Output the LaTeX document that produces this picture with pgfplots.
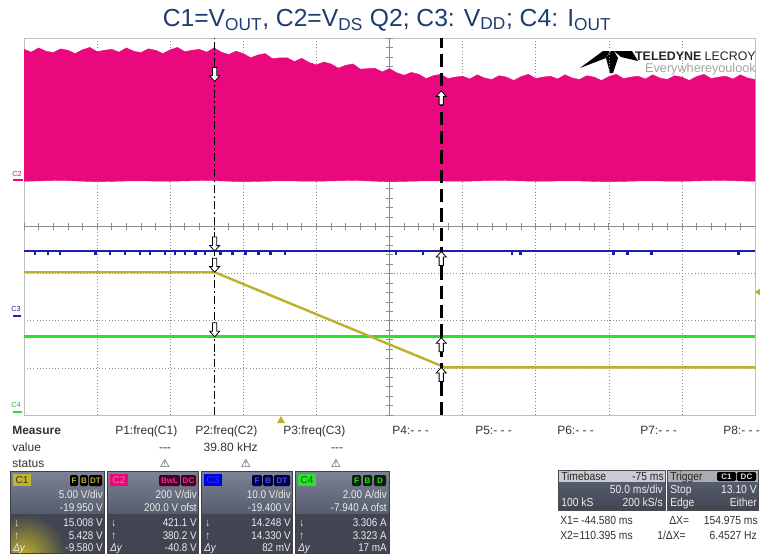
\documentclass[border=0pt]{standalone}
\usepackage{pgfplots}
\pgfplotsset{compat=1.18}
\usepackage{fontspec}
\setmainfont{Liberation Sans}
\newfontfamily\dejavu{DejaVu Sans}
\newfontfamily\narrow[FakeStretch=0.88]{Liberation Sans}
\definecolor{mag}{HTML}{E9087E}
\definecolor{cyel}{HTML}{BDB02A}
\definecolor{cgrn}{HTML}{2CE02C}
\definecolor{cblu}{HTML}{1E1EAA}
\definecolor{ttl}{HTML}{1D3C72}
\definecolor{boxtop}{HTML}{7C8394}
\definecolor{boxmid}{HTML}{555C6D}
\definecolor{boxbot}{HTML}{404551}
\definecolor{boxtxt}{HTML}{ECECEC}
\definecolor{meastxt}{HTML}{333333}
\definecolor{hdr}{HTML}{C9CCD3}

\pgfdeclareplotmark{dnarrow}{%
 \pgfpathmoveto{\pgfqpoint{0pt}{0pt}}%
 \pgfpathlineto{\pgfqpoint{-3.8pt}{4.2pt}}%
 \pgfpathlineto{\pgfqpoint{-1.6pt}{4.2pt}}%
 \pgfpathlineto{\pgfqpoint{-1.6pt}{10.5pt}}%
 \pgfpathlineto{\pgfqpoint{1.6pt}{10.5pt}}%
 \pgfpathlineto{\pgfqpoint{1.6pt}{4.2pt}}%
 \pgfpathlineto{\pgfqpoint{3.8pt}{4.2pt}}%
 \pgfpathclose
 \pgfusepathqfillstroke}
\pgfdeclareplotmark{uparrow}{%
 \pgfpathmoveto{\pgfqpoint{0pt}{0pt}}%
 \pgfpathlineto{\pgfqpoint{-3.8pt}{-4.2pt}}%
 \pgfpathlineto{\pgfqpoint{-1.6pt}{-4.2pt}}%
 \pgfpathlineto{\pgfqpoint{-1.6pt}{-10.5pt}}%
 \pgfpathlineto{\pgfqpoint{1.6pt}{-10.5pt}}%
 \pgfpathlineto{\pgfqpoint{1.6pt}{-4.2pt}}%
 \pgfpathlineto{\pgfqpoint{3.8pt}{-4.2pt}}%
 \pgfpathclose
 \pgfusepathqfillstroke}

\tikzset{
 mt/.style={inner sep=0pt, font=\fontsize{9}{10}\selectfont, text=meastxt},
 bt/.style={inner sep=0pt, font=\narrow\fontsize{8.4}{9}\selectfont, text=boxtxt},
 tt/.style={inner sep=0pt, font=\narrow\fontsize{8.8}{9}\selectfont, text=boxtxt},
 bd/.style={inner sep=0pt, font=\fontsize{6}{7}\selectfont\bfseries},
 warn/.style={inner sep=0pt, anchor=base, font=\dejavu\fontsize{8.5}{9}\selectfont, text=black!75},
}
\newcommand\chbg[2]{%
 \shade[top color=boxtop, bottom color=boxmid] (#1,471) rectangle (#2,514);
 \fill[boxbot] (#1,514) rectangle (#2,553);
}
\newcommand\chframe[2]{\draw[black!75, line width=0.5pt] (#1,471) rectangle (#2,553);}
\newcommand\badge[5]{%
 \fill[#5, rounded corners=1pt] (#1,475) rectangle (#2,486);
 \node[bd, text=#4] at ({(#1+#2)/2},480.5) {#3};}
\newcommand\rows[8]{%
 \node[bt, anchor=base east] at (#2,498) {#3};
 \node[bt, anchor=base east] at (#2,511) {#4};
 \node[bt, anchor=base east] at (#2,526) {#5};
 \node[bt, anchor=base east] at (#2,539) {#6};
 \node[bt, anchor=base east] at (#2,551) {#7};
 \node[bt, anchor=base west] at ({#1+4},526) {↓};
 \node[bt, anchor=base west] at ({#1+4},539) {↑};
 \node[bt, anchor=base west] at ({#1+3},551) {\itshape Δy};}

\begin{document}
\begin{tikzpicture}
\path[use as bounding box, fill=white] (0,0) rectangle (570pt,-415.5pt);
\begin{scope}[x=0.75pt,y=-0.75pt]
 % logo (behind the trace)
 \fill[black] (580,68)--(603,51)--(610,51)--(606,58)--cycle;
 \fill[black] (614,51)--(632,51)--(638,61)--(621,57)--cycle;
 \fill[black] (606,58)--(611,51)--(614,51)--(618,58)--(613,73)--(610,73)--cycle;
 \node[inner sep=0pt, anchor=base east, font=\fontsize{9.3}{10}\selectfont, text=black!85] at (756,60) {\textbf{TELEDYNE} LECROY};
 \node[inner sep=0pt, anchor=base east, font=\fontsize{9.5}{10}\selectfont, text=black!35] at (756,72) {Everywhereyoulook};
\end{scope}

\begin{axis}[
 at={(18pt,-311.25pt)}, anchor=south west,
 scale only axis, width=548.25pt, height=282.75pt,
 xmin=-175, xmax=325, ymin=-4, ymax=4,
 xtick={-175,-125,...,325}, ytick={-4,-3,...,4},
 xticklabels={}, yticklabels={},
 major tick length=0pt,
 grid=major,
 major grid style={draw=black!45, line width=0.45pt, dash pattern=on 0.75pt off 1.6pt},
 axis line style={draw=black!25, line width=0.6pt},
 clip=true,
]
% center cross with ticks
\draw[black!45, line width=0.5pt] (axis cs:75,-4) -- (axis cs:75,4);
\draw[black!45, line width=0.5pt] (axis cs:-175,0) -- (axis cs:325,0);
\pgfplotsinvokeforeach{0,...,50}{\draw[black!45, line width=0.5pt] (axis cs:{-175+10*#1},-0.065) -- (axis cs:{-175+10*#1},0.065);}
\pgfplotsinvokeforeach{0,...,40}{\draw[black!45, line width=0.5pt] (axis cs:72.9,{-4+0.2*#1}) -- (axis cs:77.1,{-4+0.2*#1});}

% C2 : V_DS Q2 (switching envelope)
\addplot[fill=mag, draw=mag, line width=0.3pt] coordinates {
(-175,3.76)(-170,3.70)(-165,3.79)(-160,3.72)(-155,3.69)(-150,3.77)(-145,3.74)(-140,3.67)(-135,3.75)(-130,3.80)(-125,3.71)(-120,3.74)(-115,3.76)(-110,3.70)(-105,3.79)(-100,3.72)(-95,3.69)(-90,3.77)(-85,3.74)(-80,3.67)(-75,3.75)(-70,3.80)(-65,3.71)(-60,3.74)(-55,3.76)(-50,3.70)(-45,3.79)(-40,3.70)(-35,3.65)(-30,3.72)(-25,3.67)(-20,3.58)(-15,3.64)(-10,3.67)(-5,3.56)(0,3.58)(5,3.58)(10,3.50)(15,3.57)(20,3.48)(25,3.43)(30,3.49)(35,3.45)(40,3.36)(45,3.42)(50,3.45)(55,3.34)(60,3.35)(65,3.36)(70,3.28)(75,3.35)(80,3.26)(85,3.21)(90,3.27)(95,3.23)(100,3.14)(105,3.20)(110,3.23)(115,3.14)(120,3.17)(125,3.19)(130,3.13)(135,3.22)(140,3.15)(145,3.12)(150,3.20)(155,3.17)(160,3.10)(165,3.18)(170,3.23)(175,3.14)(180,3.17)(185,3.19)(190,3.13)(195,3.22)(200,3.15)(205,3.12)(210,3.20)(215,3.17)(220,3.10)(225,3.18)(230,3.23)(235,3.14)(240,3.17)(245,3.19)(250,3.13)(255,3.22)(260,3.15)(265,3.12)(270,3.20)(275,3.17)(280,3.10)(285,3.18)(290,3.23)(295,3.14)(300,3.17)(305,3.19)(310,3.13)(315,3.22)(320,3.15)(325,3.12)
(325,0.96)(300,0.98)(275,0.96)(250,0.97)(225,0.95)(200,0.97)(175,0.96)(150,0.98)(125,0.96)(100,0.97)(75,0.95)(50,0.98)(25,0.96)(0,0.97)(-25,0.95)(-50,0.98)(-75,0.96)(-100,0.97)(-125,0.95)(-150,0.98)(-175,0.96)
} --cycle;

% C3 : V_DD
\addplot[cblu, line width=1.1pt] coordinates {(-175,-0.52) (325,-0.52)};
\addplot[only marks, mark=square*, mark size=0.55pt, cblu] coordinates {
(-167.5,-0.57)(-158.6,-0.57)(-150.4,-0.57)(-126.4,-0.57)(-116.2,-0.57)(-105.9,-0.57)(-95.7,-0.57)(-88.8,-0.57)(-78.6,-0.57)(-71.7,-0.57)(-64.9,-0.57)(-58.0,-0.57)(-51.2,-0.57)(-40.9,-0.57)(-32.7,-0.57)(-23.8,-0.57)(-14.9,-0.57)(-6.7,-0.57)(3.5,-0.57)(79.4,-0.57)(97.9,-0.57)(158.8,-0.57)(164.3,-0.57)(227.9,-0.57)(237.5,-0.57)(253.9,-0.57)(313.4,-0.57)};

% C4 : I_OUT
\addplot[cgrn, line width=2.2pt] coordinates {(-175,-2.34) (325,-2.34)};

% C1 : V_OUT
\addplot[cyel, line width=1.8pt] coordinates {(-175,-0.97) (-44.58,-0.97) (113,-2.99) (325,-2.99)};

% cursors
\addplot[black, line width=1.0pt, dash pattern=on 6pt off 2.2pt on 1.5pt off 2.2pt] coordinates {(-44.58,-4) (-44.58,4)};
\addplot[black, line width=2.1pt, dash pattern=on 10pt off 4.5pt] coordinates {(110.395,-4) (110.395,4)};

% cursor markers
\addplot[only marks, mark=dnarrow, mark options={fill=white, draw=black, line width=0.6pt}] coordinates {(-44.58,3.08) (-44.58,-0.52) (-44.58,-0.97) (-44.58,-2.34)};
\addplot[only marks, mark=uparrow, mark options={fill=white, draw=black, line width=0.6pt}] coordinates {(110.395,2.88) (110.395,-0.53) (110.395,-2.36) (110.395,-2.99)};
\end{axis}

\begin{scope}[x=0.75pt,y=-0.75pt]
 % title
 \node[inner sep=0pt, anchor=base, font=\fontsize{18.5}{21}\selectfont, text=ttl] at (387,26)
   {C1=V\textsubscript{OUT}, C2=V\textsubscript{DS} Q2; C3: V\textsubscript{DD}; C4: I\textsubscript{OUT}};
 % ground markers
 \node[inner sep=0pt, font=\fontsize{5.5}{6}\selectfont, text=mag] at (17,174) {C2};
 \draw[mag, line width=1.2pt] (13,180) -- (23,180);
 \node[inner sep=0pt, font=\fontsize{5.5}{6}\selectfont, text=cblu] at (16,309) {C3};
 \draw[cblu, line width=1.2pt] (13,316) -- (21,316);
 \node[inner sep=0pt, font=\fontsize{5.5}{6}\selectfont, text=cgrn!80!black] at (16,405) {C4};
 \draw[cgrn, line width=1.2pt] (13,412) -- (22,412);
 % trigger markers
 \fill[cyel] (281,416) -- (277,423) -- (285,423) -- cycle;
 \fill[cyel] (755,292) -- (760,288.5) -- (760,295.5) -- cycle;

 % measure table
 \node[mt, anchor=base west] at (12,434) {\bfseries Measure};
 \node[mt, anchor=base west] at (115,434) {P1:freq(C1)};
 \node[mt, anchor=base west] at (195,434) {P2:freq(C2)};
 \node[mt, anchor=base west] at (283,434) {P3:freq(C3)};
 \node[mt, anchor=base west] at (392,434) {P4:- - -};
 \node[mt, anchor=base west] at (475,434) {P5:- - -};
 \node[mt, anchor=base west] at (557,434) {P6:- - -};
 \node[mt, anchor=base west] at (640,434) {P7:- - -};
 \node[mt, anchor=base west] at (723,434) {P8:- - -};
 \node[mt, anchor=base west] at (12,451) {value};
 \node[mt, anchor=base] at (165,451) {-{}-{}-};
 \node[mt, anchor=base east] at (258,451) {39.80 kHz};
 \node[mt, anchor=base] at (337,451) {-{}-{}-};
 \node[mt, anchor=base west] at (12,467) {status};
 \node[warn] at (165,467) {⚠};
 \node[warn] at (246,467) {⚠};
 \node[warn] at (336,467) {⚠};

 % C1 box
 \chbg{10}{104}
 \begin{scope}
  \clip (10,500) rectangle (104,553);
  \shade[inner color=cyel, outer color=boxbot] (24,556) circle[radius=42];
 \end{scope}
 \chframe{10}{104}
 \fill[cyel!95!white] (13,474) rectangle (31,486);
 \node[bd, text=black!70!cyel, font=\fontsize{7.5}{8}\selectfont] at (22,480.5) {C1};
 \badge{70}{78}{F}{cyel}{black}
 \badge{80}{88}{B}{cyel}{black}
 \badge{89}{102}{DT}{cyel}{black}
 \rows{10}{103}{5.00 V/div}{-19.950 V}{15.008 V}{5.428 V}{-9.580 V}{}

 % C2 box
 \chbg{107}{198}\chframe{107}{198}
 \fill[mag] (110,474) rectangle (128,486);
 \node[bd, text=mag!60!white, font=\fontsize{7.5}{8}\selectfont] at (119,480.5) {C2};
 \badge{159}{180}{BwL}{mag!85!white}{mag!30!black}
 \badge{181}{196}{DC}{mag!85!white}{mag!30!black}
 \rows{107}{197}{200 V/div}{200.0 V ofst}{421.1 V}{380.2 V}{-40.8 V}{}

 % C3 box
 \chbg{201}{292}\chframe{201}{292}
 \fill[blue!90!black] (204,474) rectangle (222,486);
 \node[bd, text=blue!80!white, font=\fontsize{7.5}{8}\selectfont] at (213,480.5) {C3};
 \badge{252}{262}{F}{blue!70!white}{blue!25!black}
 \badge{263}{273}{B}{blue!70!white}{blue!25!black}
 \badge{274}{290}{DT}{blue!70!white}{blue!25!black}
 \rows{201}{291}{10.0 V/div}{-19.400 V}{14.248 V}{14.330 V}{82 mV}{}

 % C4 box
 \chbg{295}{389}\chframe{295}{389}
 \fill[cgrn] (298,474) rectangle (316,486);
 \node[bd, text=cgrn!40!black, font=\fontsize{7.5}{8}\selectfont] at (307,480.5) {C4};
 \badge{352}{361}{F}{cgrn}{cgrn!15!black}
 \badge{363}{372}{B}{cgrn}{cgrn!15!black}
 \badge{374}{386}{D}{cgrn}{cgrn!15!black}
 \rows{295}{387}{2.00 A/div}{-7.940 A ofst}{3.306 A}{3.323 A}{17 mA}{}

 % timebase box
 \fill[hdr] (558,470) rectangle (665,482);
 \shade[top color=boxmid, bottom color=boxbot] (558,482) rectangle (665,510);
 \draw[black!70, line width=0.5pt] (558,470) rectangle (665,510);
 \node[tt, text=black!85, anchor=base west] at (561,480) {Timebase};
 \node[tt, text=black!85, anchor=base east] at (664,480) {-75 ms};
 \node[tt, anchor=base east] at (663,493) {50.0 ms/div};
 \node[tt, anchor=base west] at (561,506) {100 kS};
 \node[tt, anchor=base east] at (663,506) {200 kS/s};
 % trigger box
 \fill[hdr!85!black] (667,470) rectangle (758,482);
 \shade[top color=boxmid, bottom color=boxbot] (667,482) rectangle (758,510);
 \draw[black!70, line width=0.5pt] (667,470) rectangle (758,510);
 \node[tt, text=black!85, anchor=base west] at (670,480) {Trigger};
 \fill[black, rounded corners=1pt] (717,472) rectangle (736,481);
 \fill[black, rounded corners=1pt] (737,472) rectangle (756,481);
 \node[bd, text=white!85!black] at (726.5,476.5) {C1};
 \node[bd, text=white!85!black] at (746.5,476.5) {DC};
 \node[tt, anchor=base west] at (670,493) {Stop};
 \node[tt, anchor=base east] at (757,493) {13.10 V};
 \node[tt, anchor=base west] at (670,506) {Edge};
 \node[tt, anchor=base east] at (757,506) {Either};
 % cursor readouts
 \node[tt, text=meastxt, anchor=base west] at (560,524) {X1=};
 \node[tt, text=meastxt, anchor=base east] at (633,524) {-44.580 ms};
 \node[tt, text=meastxt, anchor=base west] at (669,524) {ΔX=};
 \node[tt, text=meastxt, anchor=base east] at (758,524) {154.975 ms};
 \node[tt, text=meastxt, anchor=base west] at (560,539) {X2=};
 \node[tt, text=meastxt, anchor=base east] at (633,539) {110.395 ms};
 \node[tt, text=meastxt, anchor=base west] at (657,539) {1/ΔX=};
 \node[tt, text=meastxt, anchor=base east] at (757,539) {6.4527 Hz};
\end{scope}
\end{tikzpicture}
\end{document}
